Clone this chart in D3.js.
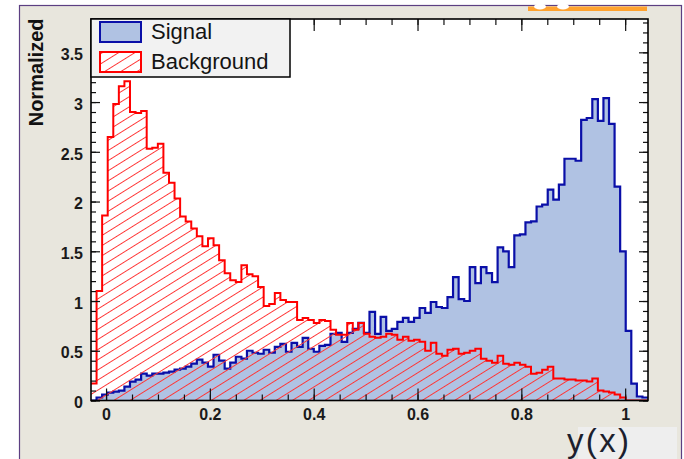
<!DOCTYPE html>
<html>
<head>
<meta charset="utf-8">
<script src="https://cdn.jsdelivr.net/npm/d3@7"></script>
<style>
    body { margin: 0; background: #ffffff; }
    .tick_label { font-family: "Liberation Sans", Arial, sans-serif; font-weight: bold; font-size: 16px; fill: #1a1a1a; }
</style>
</head>
<body>
<div id="chart"></div>
<script>
// histogram definition (TMVA response, 100 bins)
let bin_low = -0.029;
let bin_high = 1.044;
let n_bins = 100;

// normalized bin contents
let signal_values = [
    0.00, 0.03, 0.06, 0.08, 0.09, 0.10, 0.14, 0.19, 0.21, 0.27,
    0.25, 0.27, 0.27, 0.28, 0.29, 0.31, 0.32, 0.34, 0.37, 0.41,
    0.38, 0.34, 0.46, 0.40, 0.32, 0.38, 0.44, 0.42, 0.50, 0.48,
    0.47, 0.51, 0.48, 0.54, 0.57, 0.49, 0.58, 0.54, 0.63, 0.52,
    0.49, 0.55, 0.56, 0.67, 0.68, 0.59, 0.68, 0.72, 0.78, 0.68,
    0.89, 0.67, 0.84, 0.70, 0.72, 0.79, 0.83, 0.79, 0.83, 0.93,
    0.88, 0.99, 0.94, 0.93, 1.04, 1.24, 1.02, 1.00, 1.34, 1.18,
    1.34, 1.28, 1.19, 1.54, 1.50, 1.34, 1.66, 1.67, 1.79, 1.80,
    1.95, 1.97, 2.12, 2.02, 2.17, 2.43, 2.43, 2.41, 2.82, 2.84,
    3.03, 2.81, 3.04, 2.78, 2.15, 1.50, 0.70, 0.17, 0.04, 0.03
];
let background_values = [
    0.17, 1.10, 1.86, 2.65, 2.98, 3.16, 3.21, 2.90, 2.89, 2.91,
    2.53, 2.54, 2.58, 2.29, 2.19, 2.03, 1.85, 1.80, 1.73, 1.65,
    1.55, 1.63, 1.56, 1.41, 1.28, 1.21, 1.19, 1.36, 1.27, 1.25,
    1.14, 0.95, 0.97, 1.08, 1.01, 0.99, 0.99, 0.81, 0.83, 0.81,
    0.78, 0.81, 0.80, 0.71, 0.66, 0.66, 0.78, 0.71, 0.78, 0.67,
    0.64, 0.63, 0.64, 0.67, 0.66, 0.61, 0.64, 0.60, 0.61, 0.59,
    0.50, 0.58, 0.47, 0.45, 0.51, 0.52, 0.47, 0.48, 0.50, 0.52,
    0.42, 0.40, 0.38, 0.45, 0.37, 0.36, 0.38, 0.36, 0.34, 0.27,
    0.28, 0.31, 0.34, 0.22, 0.22, 0.21, 0.21, 0.20, 0.20, 0.19,
    0.22, 0.10, 0.09, 0.08, 0.06, 0.03, 0.00, 0.00, 0.00, 0.00
];

// axes
let x_ticks = [0, 0.2, 0.4, 0.6, 0.8, 1];
let x_tick_labels = ["0", "0.2", "0.4", "0.6", "0.8", "1"];
let y_ticks = [0, 0.5, 1, 1.5, 2, 2.5, 3, 3.5];
let y_tick_labels = ["0", "0.5", "1", "1.5", "2", "2.5", "3", "3.5"];
let y_max = 3.835;

let legend_labels = ["Signal", "Background"];

let width = 684, height = 459;
let plot = {left: 91, top: 19, right: 648, bottom: 400.5};

let svg = d3.select("#chart").append("svg")
    .attr("width", width)
    .attr("height", height);

// canvas background
svg.append("rect")
    .attr("x", 19.5).attr("y", 5.5)
    .attr("width", 662).attr("height", 470)
    .attr("fill", "#e8e6dd")
    .attr("stroke", "#5c3f82")
    .attr("stroke-width", 1.2);

// orange strip at the top (clipped logo)
svg.append("rect")
    .attr("x", 528).attr("y", 6.5)
    .attr("width", 119).attr("height", 4.5)
    .attr("fill", "#ffa22e");
[540, 563].forEach(function (cx) {
    svg.append("ellipse")
        .attr("cx", cx).attr("cy", 6.5)
        .attr("rx", 6).attr("ry", 3)
        .attr("fill", "#ffffff");
});

// x title box
svg.append("rect")
    .attr("x", 578).attr("y", 427)
    .attr("width", 99).attr("height", 40)
    .attr("fill", "#eeeeee");

let defs = svg.append("defs");

// red hatch for background
let hatch = defs.append("pattern")
    .attr("id", "hatch_red")
    .attr("patternUnits", "userSpaceOnUse")
    .attr("width", 12).attr("height", 8.6)
    .attr("patternTransform", "rotate(-32)");
hatch.append("line")
    .attr("x1", 0).attr("y1", 4.3)
    .attr("x2", 12).attr("y2", 4.3)
    .attr("stroke", "#ff3535")
    .attr("stroke-width", 1);

defs.append("clipPath").attr("id", "plot_clip")
    .append("rect")
    .attr("x", plot.left).attr("y", plot.top)
    .attr("width", plot.right - plot.left)
    .attr("height", plot.bottom - plot.top);

// plot area
svg.append("rect")
    .attr("x", plot.left).attr("y", plot.top)
    .attr("width", plot.right - plot.left)
    .attr("height", plot.bottom - plot.top)
    .attr("fill", "#ffffff");

let x = d3.scaleLinear().domain([bin_low, bin_high]).range([plot.left, plot.right]);
let y = d3.scaleLinear().domain([0, y_max]).range([plot.bottom, plot.top]);

let bin_width = (bin_high - bin_low) / n_bins;

// step points: left edge of every bin plus closing right edge
function step_points(values) {
    let pts = values.map(function (v, i) { return {x: bin_low + i * bin_width, v: v}; });
    pts.push({x: bin_high, v: values[values.length - 1]});
    return pts;
}

let hist_area = d3.area()
    .curve(d3.curveStepAfter)
    .x(function (d) { return x(d.x); })
    .y0(y(0))
    .y1(function (d) { return y(d.v); });

let hist_line = d3.line()
    .curve(d3.curveStepAfter)
    .x(function (d) { return x(d.x); })
    .y(function (d) { return y(d.v); });

let hists = svg.append("g").attr("clip-path", "url(#plot_clip)");

// signal: filled blue
let sig_pts = step_points(signal_values);
hists.append("path")
    .attr("d", hist_area(sig_pts))
    .attr("fill", "#b0c2e3");
hists.append("path")
    .attr("d", hist_line(sig_pts))
    .attr("fill", "none")
    .attr("stroke", "#0a0fa8")
    .attr("stroke-width", 2.2);

// background: red hatched
let bkg_pts = step_points(background_values);
hists.append("path")
    .attr("d", hist_area(bkg_pts))
    .attr("fill", "url(#hatch_red)");
hists.append("path")
    .attr("d", hist_line(bkg_pts))
    .attr("fill", "none")
    .attr("stroke", "#ff0000")
    .attr("stroke-width", 2);

// ticks (drawn inside, ROOT style)
let x_minor = d3.range(0, 1.0001, 0.05);
let y_minor = d3.range(0, 3.8001, 0.1);

function no_domain(g) { g.select(".domain").remove(); }

svg.append("g").attr("transform", "translate(0," + plot.bottom + ")")
    .call(d3.axisBottom(x).tickValues(x_minor).tickSize(-6).tickFormat(""))
    .call(no_domain);
svg.append("g").attr("transform", "translate(0," + plot.bottom + ")")
    .call(d3.axisBottom(x).tickValues(x_ticks).tickSize(-12).tickPadding(8)
        .tickFormat(function (d, i) { return x_tick_labels[i]; }))
    .call(no_domain)
    .selectAll("text").attr("class", "tick_label");

svg.append("g").attr("transform", "translate(0," + plot.top + ")")
    .call(d3.axisTop(x).tickValues(x_minor).tickSize(-6).tickFormat(""))
    .call(no_domain);
svg.append("g").attr("transform", "translate(0," + plot.top + ")")
    .call(d3.axisTop(x).tickValues(x_ticks).tickSize(-12).tickFormat(""))
    .call(no_domain);

svg.append("g").attr("transform", "translate(" + plot.left + ",0)")
    .call(d3.axisLeft(y).tickValues(y_minor).tickSize(-5).tickFormat(""))
    .call(no_domain);
svg.append("g").attr("transform", "translate(" + plot.left + ",0)")
    .call(d3.axisLeft(y).tickValues(y_ticks).tickSize(-9).tickPadding(8)
        .tickFormat(function (d, i) { return y_tick_labels[i]; }))
    .call(no_domain)
    .selectAll("text").attr("class", "tick_label").attr("dy", "0.45em");

svg.append("g").attr("transform", "translate(" + plot.right + ",0)")
    .call(d3.axisRight(y).tickValues(y_minor).tickSize(-5).tickFormat(""))
    .call(no_domain);
svg.append("g").attr("transform", "translate(" + plot.right + ",0)")
    .call(d3.axisRight(y).tickValues(y_ticks).tickSize(-9).tickFormat(""))
    .call(no_domain);

svg.selectAll(".tick line").attr("stroke", "#111").attr("stroke-width", 1.2);

// frame
svg.append("rect")
    .attr("x", plot.left).attr("y", plot.top)
    .attr("width", plot.right - plot.left)
    .attr("height", plot.bottom - plot.top)
    .attr("fill", "none")
    .attr("stroke", "#000")
    .attr("stroke-width", 1.6);

// legend
let legend = svg.append("g");
legend.append("rect")
    .attr("x", plot.left).attr("y", plot.top)
    .attr("width", 199).attr("height", 58)
    .attr("fill", "#f2f2f2")
    .attr("stroke", "#000")
    .attr("stroke-width", 1.5);

let legend_rows = [
    {label: legend_labels[0], y: 22, fill: "#b0c2e3", stroke: "#0a0fa8"},
    {label: legend_labels[1], y: 52, fill: "url(#hatch_red)", stroke: "#ff0000"}
];
legend_rows.forEach(function (r) {
    if (r.fill.indexOf("url") === 0) {
        legend.append("rect")
            .attr("x", 100).attr("y", r.y)
            .attr("width", 41).attr("height", 20)
            .attr("fill", "#ffffff");
    }
    legend.append("rect")
        .attr("x", 100).attr("y", r.y)
        .attr("width", 41).attr("height", 20)
        .attr("fill", r.fill)
        .attr("stroke", r.stroke)
        .attr("stroke-width", 2);
    legend.append("text")
        .attr("x", 151).attr("y", r.y + 17)
        .style("font-family", "'Liberation Sans', Arial, sans-serif")
        .style("font-size", "22px")
        .style("fill", "#141414")
        .text(r.label);
});

// axis titles
svg.append("text")
    .attr("transform", "translate(43,18.5) rotate(-90)")
    .attr("text-anchor", "end")
    .style("font-family", "'Liberation Sans', Arial, sans-serif")
    .style("font-weight", "bold")
    .style("font-size", "20px")
    .style("fill", "#111")
    .text("Normalized");

svg.append("text")
    .attr("x", 567).attr("y", 452)
    .attr("textLength", 62)
    .attr("lengthAdjust", "spacing")
    .style("font-family", "'Liberation Sans', Arial, sans-serif")
    .style("font-size", "33px")
    .style("fill", "#1c1f2e")
    .text("y(x)");
</script>
</body>
</html>
